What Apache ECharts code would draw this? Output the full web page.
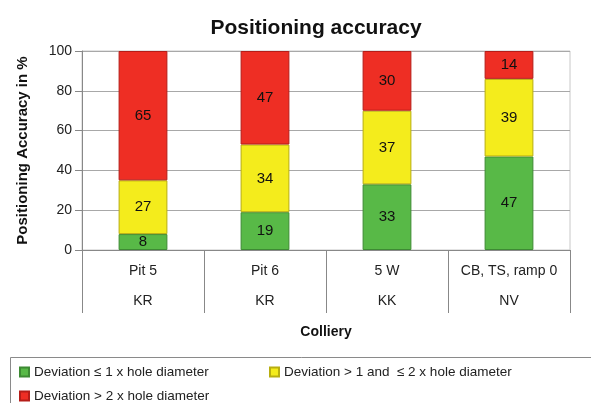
<!DOCTYPE html>
<html><head><meta charset="utf-8">
<script src="https://cdn.jsdelivr.net/npm/echarts@6/dist/echarts.min.js"></script>
<style>html,body{margin:0;padding:0;background:#fff}#c{width:591px;height:403px}</style>
</head><body><div id="c"></div>
<script>
var categories = ['Pit 5\nKR', 'Pit 6\nKR', '5 W\nKK', 'CB, TS, ramp 0\nNV'];
var seriesNames = ['Deviation ≤ 1 x hole diameter', 'Deviation > 1 and  ≤ 2 x hole diameter', 'Deviation > 2 x hole diameter'];
var greenValues = [8, 19, 33, 47];
var yellowValues = [27, 34, 37, 39];
var redValues = [65, 47, 30, 14];
var yTicks = [0, 20, 40, 60, 80, 100];

var font = 'Liberation Sans, Arial, sans-serif';
function mk(name, data, color, border) {
  return {
    name: name, type: 'bar', stack: 'a', data: data, barWidth: '40%',
    itemStyle: { color: color, borderColor: border, borderWidth: 1 },
    label: { show: true, position: 'inside', color: '#111', fontSize: 15, fontFamily: font },
    emphasis: { disabled: true }
  };
}
function lg(name, left, top) {
  return { left: left, top: top, itemWidth: 9, itemHeight: 9, icon: 'rect', itemGap: 4,
    data: [name], textStyle: { fontSize: 13.5, color: '#222', fontFamily: font } };
}
var chart = echarts.init(document.getElementById('c'));
chart.setOption({
  animation: false,
  title: { text: 'Positioning accuracy', left: 311, top: 13, textAlign: 'center',
    textStyle: { fontSize: 21, fontWeight: 'bold', color: '#111', fontFamily: font } },
  grid: { left: 82, right: 21, top: 51, bottom: 153, show: true, borderColor: '#c8c8c8', borderWidth: 1 },
  legend: [
    lg(seriesNames[0], 14, 360),
    lg(seriesNames[1], 264, 360),
    lg(seriesNames[2], 14, 384)
  ],
  graphic: [{ type: 'rect', left: 8, top: 355, shape: { width: 600, height: 60 },
    style: { fill: 'none', stroke: '#8a8a8a', lineWidth: 1 }, z: -1 }],
  xAxis: {
    type: 'category', data: categories,
    name: 'Colliery', nameLocation: 'middle', nameGap: 75,
    nameTextStyle: { fontSize: 14, fontWeight: 'bold', color: '#111', fontFamily: font },
    axisLine: { lineStyle: { color: '#888' } },
    axisTick: { show: true, length: 63, interval: 0, lineStyle: { color: '#888' } },
    axisLabel: { interval: 0, margin: 6, lineHeight: 30, fontSize: 14, color: '#222', fontFamily: font }
  },
  yAxis: {
    type: 'value', min: yTicks[0], max: yTicks[yTicks.length - 1], interval: 20,
    name: 'Positioning Accuracy in %', nameLocation: 'middle', nameGap: 52, nameRotate: 90,
    nameTextStyle: { fontSize: 15, fontWeight: 'bold', color: '#111', fontFamily: font },
    axisLine: { show: true, lineStyle: { color: '#888' } },
    axisTick: { show: true, length: 7, lineStyle: { color: '#888' } },
    axisLabel: { margin: 10, fontSize: 14, color: '#222', fontFamily: font },
    splitLine: { lineStyle: { color: '#a8a8a8' } }
  },
  series: [
    mk(seriesNames[0], greenValues, '#58b947', '#3d8a33'),
    mk(seriesNames[1], yellowValues, '#f4ec1c', '#b8ae10'),
    mk(seriesNames[2], redValues, '#ee2e24', '#b51d18')
  ]
});
</script></body></html>
